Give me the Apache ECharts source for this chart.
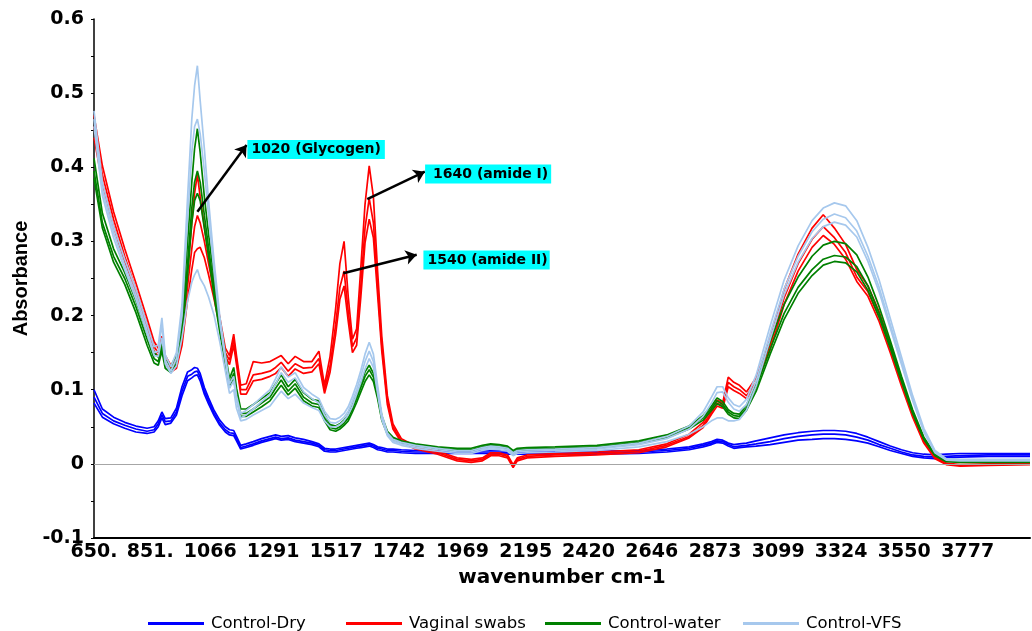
<!DOCTYPE html>
<html><head><meta charset="utf-8">
<script src="https://cdn.jsdelivr.net/npm/echarts@6/dist/echarts.min.js"></script>
<style>html,body{margin:0;padding:0;background:#fff}#c{width:1032px;height:631px}</style>
</head><body><div id="c"></div>
<script>
// ---- DATA ----
const wavenumbers = [650,680,720,760,800,840,865,880,893,905,
 925,945,965,985,1000,1010,1020,1030,1045,1060,
 1080,1100,1120,1135,1150,1160,1175,1195,1220,1250,
 1280,1300,1320,1345,1370,1400,1430,1455,1475,1495,
 1515,1530,1545,1560,1575,1590,1605,1620,1635,1650,
 1665,1680,1700,1720,1750,1800,1880,1950,2000,2040,
 2070,2100,2130,2150,2165,2200,2300,2450,2600,2700,
 2780,2830,2860,2880,2900,2920,2940,2960,2985,3020,
 3070,3120,3170,3220,3260,3300,3340,3380,3420,3460,
 3500,3540,3580,3620,3660,3700,3750,3850,4000];

const dryA = [0.100,0.074,0.063,0.056,0.051,0.048,0.050,0.058,0.070,0.061,
 0.062,0.075,0.104,0.124,0.127,0.130,0.129,0.122,0.103,0.089,
 0.072,0.059,0.050,0.046,0.045,0.037,0.025,0.027,0.030,0.034,
 0.037,0.039,0.037,0.038,0.035,0.033,0.030,0.027,0.021,0.020,
 0.020,0.021,0.022,0.023,0.024,0.025,0.026,0.027,0.028,0.026,
 0.023,0.022,0.020,0.020,0.019,0.018,0.018,0.018,0.018,0.018,
 0.018,0.018,0.017,0.017,0.017,0.017,0.017,0.017,0.018,0.020,
 0.023,0.027,0.030,0.033,0.032,0.028,0.026,0.027,0.028,0.031,
 0.035,0.039,0.042,0.044,0.045,0.045,0.044,0.041,0.036,0.030,
 0.024,0.019,0.015,0.013,0.012,0.013,0.014,0.014,0.014];
const dryB = [0.090,0.068,0.058,0.052,0.047,0.044,0.046,0.054,0.066,0.057,
 0.058,0.070,0.098,0.118,0.121,0.124,0.125,0.117,0.098,0.085,
 0.068,0.055,0.046,0.042,0.041,0.034,0.022,0.024,0.027,0.031,
 0.034,0.036,0.034,0.035,0.032,0.030,0.028,0.025,0.019,0.018,
 0.018,0.019,0.020,0.021,0.022,0.023,0.024,0.025,0.026,0.024,
 0.021,0.020,0.018,0.018,0.017,0.016,0.016,0.016,0.016,0.016,
 0.016,0.016,0.015,0.015,0.015,0.015,0.015,0.015,0.016,0.018,
 0.021,0.025,0.028,0.031,0.030,0.026,0.023,0.024,0.025,0.027,
 0.030,0.034,0.037,0.039,0.040,0.040,0.039,0.036,0.032,0.026,
 0.021,0.016,0.012,0.010,0.009,0.010,0.011,0.012,0.012];
const dryC = [0.082,0.063,0.054,0.048,0.043,0.041,0.043,0.050,0.062,0.053,
 0.055,0.066,0.092,0.112,0.116,0.119,0.120,0.112,0.094,0.081,
 0.065,0.052,0.043,0.039,0.038,0.031,0.020,0.022,0.025,0.029,
 0.032,0.034,0.032,0.033,0.030,0.028,0.026,0.023,0.017,0.016,
 0.016,0.017,0.018,0.019,0.020,0.021,0.022,0.023,0.024,0.022,
 0.019,0.018,0.016,0.016,0.015,0.014,0.014,0.014,0.014,0.014,
 0.014,0.014,0.013,0.013,0.013,0.013,0.013,0.013,0.014,0.016,
 0.019,0.023,0.026,0.029,0.028,0.024,0.021,0.022,0.023,0.024,
 0.026,0.029,0.032,0.033,0.034,0.034,0.033,0.031,0.028,0.023,
 0.018,0.014,0.010,0.008,0.007,0.008,0.009,0.010,0.010];

const swabA = [0.470,0.402,0.340,0.290,0.244,0.196,0.165,0.156,0.172,0.146,
 0.133,0.140,0.180,0.262,0.325,0.365,0.390,0.360,0.320,0.282,
 0.240,0.198,0.156,0.146,0.175,0.146,0.106,0.108,0.138,0.136,
 0.138,0.142,0.146,0.135,0.145,0.138,0.138,0.152,0.106,0.145,
 0.210,0.270,0.300,0.225,0.168,0.182,0.265,0.350,0.402,0.360,
 0.260,0.172,0.092,0.054,0.034,0.024,0.017,0.008,0.006,0.008,
 0.015,0.015,0.012,-0.001,0.008,0.012,0.014,0.016,0.019,0.027,
 0.040,0.056,0.074,0.086,0.082,0.117,0.110,0.106,0.097,0.116,
 0.168,0.235,0.283,0.318,0.336,0.318,0.296,0.262,0.240,0.205,
 0.162,0.114,0.070,0.032,0.010,0.001,-0.001,0.000,0.001];
const swabB = [0.455,0.390,0.330,0.280,0.235,0.188,0.158,0.150,0.166,0.140,
 0.128,0.134,0.170,0.240,0.290,0.320,0.335,0.325,0.300,0.270,
 0.232,0.192,0.150,0.140,0.168,0.140,0.100,0.100,0.120,0.122,
 0.125,0.130,0.137,0.125,0.135,0.129,0.130,0.142,0.100,0.132,
 0.188,0.238,0.260,0.205,0.158,0.170,0.240,0.318,0.358,0.325,
 0.240,0.160,0.085,0.050,0.031,0.022,0.015,0.006,0.004,0.006,
 0.013,0.013,0.010,-0.003,0.006,0.010,0.012,0.014,0.017,0.025,
 0.037,0.052,0.070,0.082,0.078,0.110,0.104,0.100,0.092,0.110,
 0.160,0.224,0.270,0.303,0.320,0.305,0.285,0.252,0.232,0.198,
 0.156,0.110,0.067,0.030,0.008,0.000,-0.002,-0.001,0.000];
const swabC = [0.440,0.378,0.320,0.272,0.227,0.181,0.152,0.145,0.160,0.135,
 0.124,0.129,0.160,0.222,0.262,0.285,0.290,0.292,0.278,0.255,
 0.222,0.185,0.145,0.134,0.160,0.134,0.094,0.094,0.112,0.114,
 0.118,0.122,0.130,0.118,0.128,0.122,0.124,0.135,0.095,0.124,
 0.175,0.222,0.240,0.192,0.150,0.160,0.225,0.298,0.330,0.305,
 0.228,0.152,0.080,0.047,0.029,0.020,0.013,0.004,0.002,0.004,
 0.011,0.011,0.008,-0.005,0.004,0.008,0.010,0.012,0.015,0.023,
 0.035,0.049,0.067,0.078,0.075,0.104,0.099,0.095,0.088,0.106,
 0.154,0.215,0.260,0.292,0.308,0.296,0.276,0.246,0.226,0.192,
 0.150,0.105,0.063,0.028,0.007,-0.001,-0.003,-0.002,-0.001];

const waterA = [0.412,0.338,0.290,0.258,0.220,0.176,0.150,0.144,0.165,0.140,
 0.132,0.146,0.190,0.300,0.380,0.425,0.452,0.420,0.360,0.310,
 0.248,0.195,0.148,0.115,0.130,0.102,0.074,0.074,0.080,0.088,
 0.096,0.108,0.120,0.104,0.114,0.096,0.087,0.085,0.067,0.053,
 0.051,0.054,0.059,0.066,0.079,0.093,0.108,0.124,0.133,0.122,
 0.096,0.065,0.044,0.036,0.031,0.027,0.023,0.021,0.021,0.025,
 0.027,0.026,0.024,0.018,0.021,0.022,0.023,0.025,0.031,0.039,
 0.051,0.065,0.078,0.089,0.084,0.073,0.068,0.067,0.079,0.110,
 0.165,0.215,0.252,0.280,0.295,0.300,0.297,0.282,0.252,0.212,
 0.166,0.118,0.073,0.036,0.013,0.005,0.004,0.004,0.004];
const waterB = [0.395,0.325,0.280,0.250,0.212,0.168,0.142,0.138,0.158,0.134,
 0.127,0.140,0.180,0.270,0.345,0.380,0.395,0.380,0.335,0.292,
 0.235,0.185,0.140,0.108,0.122,0.095,0.068,0.068,0.074,0.082,
 0.090,0.102,0.113,0.098,0.108,0.090,0.082,0.080,0.062,0.049,
 0.047,0.050,0.055,0.062,0.074,0.088,0.103,0.118,0.127,0.117,
 0.092,0.062,0.042,0.034,0.029,0.025,0.021,0.019,0.019,0.023,
 0.025,0.024,0.022,0.016,0.019,0.020,0.021,0.023,0.029,0.037,
 0.049,0.062,0.075,0.085,0.080,0.070,0.065,0.064,0.075,0.103,
 0.155,0.203,0.238,0.262,0.276,0.281,0.279,0.266,0.240,0.203,
 0.160,0.114,0.070,0.034,0.012,0.004,0.003,0.003,0.003];
const waterC = [0.385,0.318,0.272,0.242,0.204,0.160,0.136,0.133,0.152,0.129,
 0.123,0.135,0.172,0.255,0.325,0.355,0.365,0.355,0.318,0.280,
 0.226,0.178,0.134,0.103,0.116,0.090,0.064,0.064,0.070,0.077,
 0.085,0.096,0.106,0.093,0.102,0.085,0.078,0.076,0.058,0.046,
 0.044,0.047,0.052,0.058,0.070,0.083,0.097,0.111,0.120,0.111,
 0.088,0.059,0.040,0.032,0.028,0.024,0.020,0.018,0.018,0.022,
 0.024,0.023,0.021,0.015,0.018,0.019,0.020,0.022,0.028,0.035,
 0.047,0.059,0.072,0.081,0.077,0.067,0.062,0.061,0.072,0.098,
 0.148,0.195,0.230,0.254,0.268,0.273,0.271,0.259,0.234,0.198,
 0.156,0.111,0.068,0.033,0.011,0.003,0.002,0.002,0.002];

const vfsA = [0.476,0.380,0.320,0.276,0.236,0.188,0.158,0.160,0.197,0.147,
 0.131,0.150,0.215,0.360,0.465,0.510,0.537,0.490,0.425,0.355,
 0.272,0.200,0.147,0.108,0.118,0.092,0.068,0.072,0.080,0.090,
 0.100,0.115,0.131,0.117,0.123,0.103,0.094,0.088,0.071,0.061,
 0.060,0.063,0.068,0.077,0.091,0.107,0.126,0.148,0.164,0.148,
 0.106,0.067,0.042,0.033,0.029,0.025,0.021,0.018,0.018,0.022,
 0.024,0.023,0.021,0.015,0.018,0.019,0.020,0.022,0.028,0.037,
 0.051,0.070,0.090,0.104,0.104,0.089,0.080,0.077,0.087,0.120,
 0.186,0.248,0.294,0.328,0.345,0.352,0.348,0.328,0.292,0.248,
 0.196,0.144,0.092,0.048,0.018,0.007,0.006,0.006,0.006];
const vfsB = [0.465,0.370,0.312,0.268,0.228,0.180,0.150,0.152,0.188,0.140,
 0.125,0.142,0.200,0.330,0.420,0.455,0.465,0.445,0.395,0.335,
 0.258,0.190,0.140,0.102,0.112,0.086,0.062,0.066,0.074,0.084,
 0.094,0.108,0.123,0.110,0.116,0.097,0.088,0.082,0.066,0.056,
 0.055,0.058,0.063,0.071,0.085,0.100,0.118,0.138,0.152,0.138,
 0.100,0.063,0.040,0.031,0.027,0.023,0.019,0.016,0.016,0.020,
 0.022,0.021,0.019,0.013,0.016,0.017,0.018,0.020,0.026,0.034,
 0.047,0.064,0.082,0.096,0.097,0.083,0.074,0.071,0.080,0.112,
 0.176,0.236,0.280,0.313,0.330,0.337,0.332,0.314,0.280,0.238,
 0.188,0.138,0.088,0.045,0.016,0.006,0.005,0.005,0.005];
const vfsC = [0.455,0.362,0.305,0.262,0.222,0.175,0.146,0.145,0.170,0.135,
 0.122,0.132,0.170,0.220,0.245,0.255,0.262,0.250,0.240,0.225,
 0.200,0.165,0.125,0.095,0.100,0.075,0.058,0.060,0.066,0.072,
 0.078,0.088,0.098,0.088,0.094,0.082,0.076,0.072,0.058,0.050,
 0.050,0.053,0.058,0.066,0.078,0.094,0.110,0.128,0.142,0.130,
 0.095,0.060,0.038,0.029,0.025,0.021,0.017,0.014,0.014,0.018,
 0.020,0.019,0.017,0.011,0.014,0.015,0.016,0.018,0.023,0.030,
 0.040,0.050,0.058,0.062,0.062,0.058,0.058,0.060,0.072,0.105,
 0.168,0.228,0.272,0.304,0.320,0.326,0.322,0.306,0.273,0.232,
 0.183,0.134,0.085,0.043,0.015,0.005,0.004,0.004,0.004];

const seriesNames = ['Control-Dry', 'Vaginal swabs', 'Control-water', 'Control-VFS'];
const tickValues = [650, 851, 1066, 1291, 1517, 1742, 1969, 2195, 2420, 2646, 2873, 3099, 3324, 3550, 3777];
const tickLabels = ['650.', '851.', '1066', '1291', '1517', '1742', '1969', '2195', '2420', '2646', '2873', '3099', '3324', '3550', '3777'];

// annotation texts and their anchor points (data units: wavenumber, absorbance)
const annotationTexts = ['1020 (Glycogen)', '1640 (amide I)', '1540 (amide II)'];
const arrowFrom = [[1020, 0.340], [1628, 0.357], [1542, 0.257]];
const arrowTo = [[1196, 0.430], [1834, 0.394], [1805, 0.282]];
const boxAnchor = [[1199, 0.424], [1835, 0.391], [1829, 0.275]];

// ---- STYLE / LAYOUT ----
const colors = ['#0000ff', '#ff0000', '#008000', '#a6c8ed'];
const legendLefts = [143, 341, 540, 738];
const boxPadding = [[3, 4, 2, 4], [3, 3, 2, 8], [3, 2, 2, 4]];
const groups = [[dryA, dryB, dryC], [swabA, swabB, swabC], [waterA, waterB, waterC], [vfsA, vfsB, vfsC]];

function pairs(ys) { return wavenumbers.map((w, i) => [w, ys[i]]); }

const series = [];
series.push({
  type: 'line', name: '_zero', data: [], silent: true, z: 1,
  markLine: { silent: true, symbol: 'none', animation: false, label: { show: false },
    lineStyle: { color: '#a6a6a6', width: 1.2, type: 'solid' }, data: [{ yAxis: 0 }] }
});
groups.forEach((lines, gi) => {
  lines.forEach(ys => {
    series.push({
      type: 'line', name: seriesNames[gi], data: pairs(ys), showSymbol: false, symbol: 'none',
      silent: true, animation: false, z: 2,
      lineStyle: { width: 1.7, color: colors[gi] }, itemStyle: { color: colors[gi] }
    });
  });
});
series.push({
  type: 'line', name: '_annot', data: [], silent: true, z: 10,
  markLine: {
    silent: true, animation: false, symbol: ['none', 'arrow'], symbolSize: 11,
    label: { show: false },
    lineStyle: { color: '#000', width: 2.5, type: 'solid' },
    data: arrowFrom.map((f, i) => [{ coord: f }, { coord: arrowTo[i] }])
  },
  markPoint: {
    silent: true, animation: false, symbol: 'circle', symbolSize: 0,
    data: boxAnchor.map((c, i) => ({
      coord: c, value: annotationTexts[i],
      label: { show: true, position: 'right', distance: 0, formatter: annotationTexts[i],
        color: '#000', fontFamily: 'DejaVu Sans', fontWeight: 'bold', fontSize: 14,
        backgroundColor: '#00ffff', padding: boxPadding[i] }
    }))
  }
});

const chart = echarts.init(document.getElementById('c'), null, { renderer: 'canvas' });
chart.setOption({
  animation: false,
  backgroundColor: '#ffffff',
  grid: { left: 94, right: 2, top: 19, bottom: 93 },
  legend: seriesNames.map((n, i) => ({
    data: [n], left: legendLefts[i], top: 610, icon: 'rect', itemWidth: 56, itemHeight: 3,
    selectedMode: false,
    textStyle: { fontFamily: 'DejaVu Sans', fontSize: 16.5, color: '#000', padding: [0, 0, 0, 2] }
  })),
  xAxis: {
    type: 'value', min: 650, max: 4000,
    name: 'wavenumber cm-1', nameLocation: 'middle', nameGap: 30,
    nameTextStyle: { fontFamily: 'DejaVu Sans', fontWeight: 'bold', fontSize: 20, color: '#000' },
    axisLine: { onZero: false, lineStyle: { color: '#000', width: 2 } },
    axisTick: { show: false },
    splitLine: { show: false },
    axisLabel: {
      customValues: tickValues,
      formatter: function (v) {
        let best = 0;
        for (let i = 1; i < tickValues.length; i++) if (Math.abs(tickValues[i] - v) < Math.abs(tickValues[best] - v)) best = i;
        return tickLabels[best];
      },
      fontFamily: 'DejaVu Sans', fontWeight: 'bold', fontSize: 19, color: '#000', margin: 5,
      showMinLabel: true
    }
  },
  yAxis: {
    type: 'value', min: -0.1, max: 0.6, interval: 0.1,
    name: 'Absorbance', nameLocation: 'middle', nameGap: 60, nameRotate: 90,
    nameTextStyle: { fontFamily: 'Liberation Sans', fontWeight: 'bold', fontSize: 20, color: '#000' },
    axisLine: { show: true, lineStyle: { color: '#000', width: 1.5 } },
    axisTick: { show: true, length: 3, lineStyle: { color: '#000' } },
    minorTick: { show: true, splitNumber: 2, length: 3, lineStyle: { color: '#000' } },
    splitLine: { show: false },
    axisLabel: {
      formatter: v => String(Math.round(v * 10) / 10),
      fontFamily: 'DejaVu Sans', fontWeight: 'bold', fontSize: 19, color: '#000', margin: 10
    }
  },
  series: series
});
</script></body></html>
